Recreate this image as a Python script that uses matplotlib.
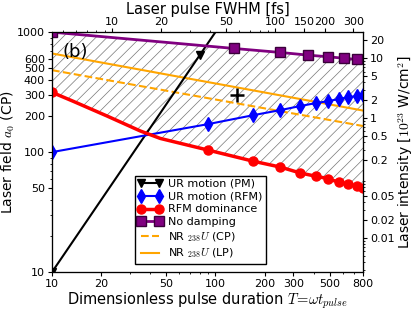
import matplotlib
matplotlib.use("Agg")
import matplotlib.pyplot as plt
from matplotlib.ticker import FixedLocator, FixedFormatter, NullFormatter

plt.rcParams['mathtext.fontset'] = 'cm'
plt.rcParams['hatch.linewidth'] = 0.5
plt.rcParams['hatch.color'] = '#777777'

# UR motion (PM)
T_pm = [10, 80, 120]
a_pm = [10, 640, 1440]
# UR motion (RFM)
T_rfm = [10, 90, 170, 250, 330, 410, 490, 570, 650, 730, 800]
a_rfm = [100, 171, 203, 224, 242, 256, 266, 277, 287, 293, 299]
# RFM dominance
T_dom = [10, 13.5, 21.7, 34.7, 46, 90, 170, 250, 330, 410, 490, 570, 650, 730, 800]
a_dom = [315, 265, 200, 150, 130, 104, 84, 75, 67, 63, 60, 56, 54, 52, 50]
# No damping
T_nd = [10, 130, 250, 370, 490, 610, 730, 800]
a_nd = [1000, 731, 677, 643, 623, 606, 592, 584]
# NR 238U
T_nr = [10, 800]
a_cp = [482, 165]
a_lp = [664, 222]
# marked point
T_plus, a_plus = 136, 300

x_ticks = [10, 20, 50, 100, 200, 300, 500, 800]
y_ticks = [10, 50, 100, 200, 300, 400, 500, 600, 1000]
fs_ticks = [10, 20, 50, 100, 150, 200, 300]
I_ticks = [0.01, 0.02, 0.05, 0.2, 0.5, 1, 2, 5, 10, 20]
omega = 2.33      # T per fs
a2I = 36765.0     # a0^2 per 1e23 W/cm^2


def main():
    fig = plt.figure(figsize=(4.15, 3.12), dpi=100)
    ax = fig.add_axes([0.1253, 0.128, 0.7494, 0.769])
    ax.set_xscale('log')
    ax.set_yscale('log')

    # hatched region between RFM dominance and no damping
    poly_T = T_nd + T_dom[::-1]
    poly_a = a_nd + a_dom[::-1]
    ax.fill(poly_T, poly_a, facecolor='none', edgecolor='#777777', hatch='///', lw=0, zorder=1)

    ax.plot(T_pm, a_pm, '-', color='black', lw=1.5, marker='v', ms=6,
            markevery=[0, 1], label='UR motion (PM)', zorder=3)
    ax.plot(T_rfm, a_rfm, '-', color='blue', lw=1.5, marker='d', ms=7,
            label='UR motion (RFM)', zorder=3)
    ax.plot(T_dom, a_dom, '-', color='red', lw=2.5, marker='o', ms=6.5,
            markevery=[0] + list(range(5, len(T_dom))), label='RFM dominance', zorder=3)
    ax.plot(T_nd, a_nd, '-', color='purple', lw=2, marker='s', ms=7, mec='#3a003a',
            markevery=list(range(len(T_nd) - 1)), label='No damping', zorder=3)
    ax.plot(T_nr, a_cp, '--', color='orange', lw=1.5, label=r'NR $_{238}U$ (CP)', zorder=2)
    ax.plot(T_nr, a_lp, '-', color='orange', lw=1.5, label=r'NR $_{238}U$ (LP)', zorder=2)
    ax.plot([T_plus], [a_plus], '+', color='black', ms=10, mew=1.8, zorder=4)

    ax.set_xlim(10, 800)
    ax.set_ylim(10, 1000)
    ax.xaxis.set_major_locator(FixedLocator(x_ticks))
    ax.xaxis.set_major_formatter(FixedFormatter([str(v) for v in x_ticks]))
    ax.xaxis.set_minor_formatter(NullFormatter())
    ax.yaxis.set_major_locator(FixedLocator(y_ticks))
    ax.yaxis.set_major_formatter(FixedFormatter([str(v) for v in y_ticks]))
    ax.yaxis.set_minor_formatter(NullFormatter())
    ax.tick_params(labelsize=8, direction='out', length=3, pad=2)
    ax.tick_params(which='minor', direction='out', length=1.5)
    ax.set_xlabel(r'Dimensionless pulse duration $T\!=\!\omega t_{pulse}$', fontsize=10.5, labelpad=1)
    ax.set_ylabel(r'Laser field $a_0$ (CP)', fontsize=10, labelpad=0)
    ax.text(0.035, 0.955, '(b)', transform=ax.transAxes, fontsize=13, va='top')

    ax.legend(loc='lower right', bbox_to_anchor=(0.705, 0.012), fontsize=8, numpoints=2,
              fancybox=False, edgecolor='black', framealpha=1, borderpad=0.3,
              labelspacing=0.25, handlelength=2.2, handletextpad=0.5)

    axt = ax.twiny()
    axt.set_xscale('log')
    axt.set_xlim(10 / omega, 800 / omega)
    axt.xaxis.set_major_locator(FixedLocator(fs_ticks))
    axt.xaxis.set_major_formatter(FixedFormatter([str(v) for v in fs_ticks]))
    axt.xaxis.set_minor_formatter(NullFormatter())
    axt.tick_params(labelsize=8, direction='out', length=3, pad=1)
    axt.tick_params(which='minor', direction='out', length=1.5)
    axt.set_xlabel('Laser pulse FWHM [fs]', fontsize=10.5, labelpad=2)

    axr = ax.twinx()
    axr.set_yscale('log')
    axr.set_ylim(10 ** 2 / a2I, 1000 ** 2 / a2I)
    axr.yaxis.set_major_locator(FixedLocator(I_ticks))
    axr.yaxis.set_major_formatter(FixedFormatter([f'{v:g}' for v in I_ticks]))
    axr.yaxis.set_minor_formatter(NullFormatter())
    axr.tick_params(labelsize=8, direction='out', length=3, pad=2)
    axr.tick_params(which='minor', direction='out', length=1.5)
    axr.set_ylabel(r'Laser intensity [$10^{23}$ W/cm$^2$]', fontsize=10, labelpad=1)

    fig.savefig('out.png', dpi=100)


if __name__ == '__main__':
    main()
